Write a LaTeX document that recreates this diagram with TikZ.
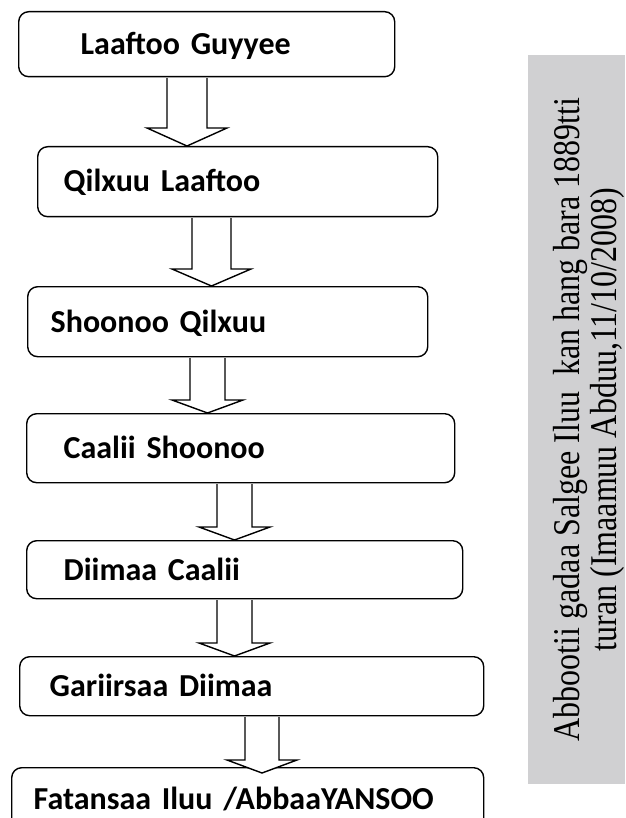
\documentclass[tikz,border=0pt]{standalone}
\usepackage{fontspec}
\usepackage{graphicx}
\newfontfamily\boxfont{Carlito}
\newfontfamily\notefont{Liberation Serif}
\usetikzlibrary{calc}
\definecolor{notegray}{RGB}{208,208,210}
\tikzset{
  famname/.style={draw, line width=1.4pt, rounded corners=10pt, anchor=north west,
    inner ysep=0pt, align=left, text height=20.6pt, text depth=0pt,
    font=\boxfont\bfseries\fontsize{32}{36}\selectfont},
  blockarr/.style={draw, fill=white, line width=1.4pt, line join=miter}
}
% from, to, centre x, shaft half width, head half width, head length, tip drop
\newcommand\famarrow[7]{%
  \draw[blockarr] let \p1=(#1.south), \p2=(#2.north) in
    ({(#3-#4)*1pt},\y1-0.7pt) -- ({(#3-#4)*1pt},\y2+#6pt-#7pt)
    -- ({(#3-#5)*1pt},\y2+#6pt-#7pt) -- ({#3*1pt},\y2-#7pt)
    -- ({(#3+#5)*1pt},\y2+#6pt-#7pt) -- ({(#3+#4)*1pt},\y2+#6pt-#7pt)
    -- ({(#3+#4)*1pt},\y1-0.7pt);}
\begin{document}
\begin{tikzpicture}[x=1pt,y=-1pt]
  \useasboundingbox (0,0) rectangle (625,818);
  \clip (0,0) rectangle (625,818);

  \node[famname, text width=252pt, inner xsep=62pt, minimum height=65pt] (laaftoo) at (18,11) {Laaftoo Guyyee};
  \node[famname, text width=348pt, inner xsep=26pt, minimum height=70pt] (qilxuu) at (37,146) {Qilxuu Laaftoo};
  \node[famname, text width=354pt, inner xsep=23pt, minimum height=70pt] (shoonoo) at (27,286) {Shoonoo Qilxuu};
  \node[famname, text width=354pt, inner xsep=37pt, minimum height=69pt] (caalii) at (26,413) {Caalii Shoonoo};
  \node[famname, text width=362pt, inner xsep=37pt, minimum height=58pt] (diimaa) at (26,540) {Diimaa Caalii};
  \node[famname, text width=404pt, inner xsep=30pt, minimum height=59pt] (gariirsaa) at (19,656) {Gariirsaa Diimaa};
  \node[famname, text width=428pt, inner xsep=22pt, minimum height=62pt] (fatansaa) at (11,767) {Fatansaa Iluu /AbbaaYANSOO};

  \famarrow{laaftoo}{qilxuu}{187}{20}{40}{18}{0}
  \famarrow{qilxuu}{shoonoo}{211.5}{19.5}{39.5}{17}{0}
  \famarrow{shoonoo}{caalii}{207.5}{17.5}{35.5}{13}{0}
  \famarrow{caalii}{diimaa}{234.5}{17.5}{35.5}{13}{0}
  \famarrow{diimaa}{gariirsaa}{234.5}{17.5}{35.5}{13}{0}
  \famarrow{gariirsaa}{fatansaa}{262}{17}{35}{13}{6}

  % side note
  \fill[notegray] (528,55) rectangle (625,784);
  \node[rotate=90, inner sep=0pt, font=\notefont\fontsize{32}{29.7}\selectfont] (note) at (590.5,419.5)
    {\scalebox{1}[1.18]{\begin{tabular}{@{}c@{}}Abbootii gadaa Salgee Iluu\ \ kan hang bara 1889tti\\ turan (Imaamuu Abduu,11/10/2008)\end{tabular}}};
\end{tikzpicture}
\end{document}
